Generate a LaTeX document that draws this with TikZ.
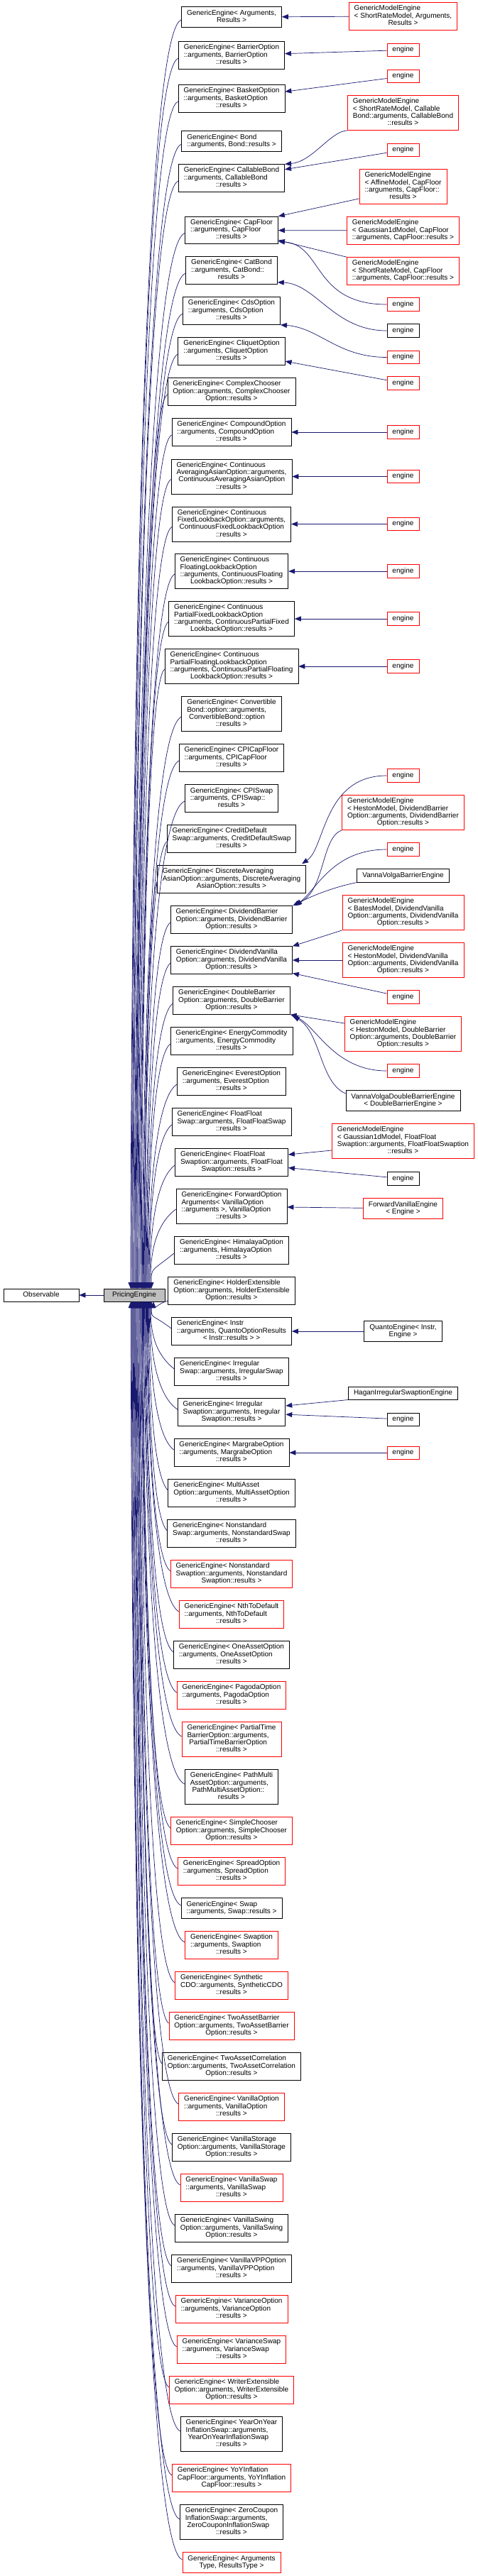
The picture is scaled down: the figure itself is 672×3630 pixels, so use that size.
\documentclass[tikz,border=0pt]{standalone}
\usepackage{fontspec}
\setmainfont{Liberation Sans}
\usetikzlibrary{arrows.meta,calc}
\definecolor{edgeblue}{HTML}{191970}
\definecolor{pegray}{HTML}{BFBFBF}
\newcommand{\lbl}[2]{\begin{tabular}{@{}l@{}}#1\\\multicolumn{1}{@{}c@{}}{#2}\end{tabular}}
\newcommand{\one}[1]{\begin{tabular}{@{}c@{}}#1\end{tabular}}
\begin{document}
\begin{tikzpicture}[x=1pt, y=-1pt,
  cls/.style={draw,line width=0.8pt,inner xsep=7.5pt,inner ysep=4pt,font=\fontsize{10}{10}\selectfont},
  rcls/.style={cls,draw=red},
  inh/.style={draw=edgeblue,line width=0.7pt,-{Triangle[length=9pt,width=7pt]}}]
\useasboundingbox (0,0) rectangle (672,3630);
\node[cls,minimum width=106pt] (obs) at (58,1825) {\one{Observable}};
\node[cls,fill=pegray,minimum width=86pt] (pe) at (189,1825) {\one{PricingEngine}};
\node[cls] (args) at (326,24) {\lbl{GenericEngine< Arguments,}{Results >}};
\node[cls] (barrier) at (326,78) {\lbl{GenericEngine< BarrierOption\\::arguments, BarrierOption}{::results >}};
\node[cls] (basket) at (326,139) {\lbl{GenericEngine< BasketOption\\::arguments, BasketOption}{::results >}};
\node[cls] (bond) at (326,199) {\lbl{GenericEngine< Bond}{::arguments, Bond::results >}};
\node[cls] (callable) at (326,251) {\lbl{GenericEngine< CallableBond\\::arguments, CallableBond}{::results >}};
\node[cls] (capfloor) at (326,324.5) {\lbl{GenericEngine< CapFloor\\::arguments, CapFloor}{::results >}};
\node[cls] (catbond) at (326,381) {\lbl{GenericEngine< CatBond\\::arguments, CatBond::}{results >}};
\node[cls] (cds) at (326,438) {\lbl{GenericEngine< CdsOption\\::arguments, CdsOption}{::results >}};
\node[cls] (cliquet) at (326,495) {\lbl{GenericEngine< CliquetOption\\::arguments, CliquetOption}{::results >}};
\node[cls] (complex) at (326,552) {\lbl{GenericEngine< ComplexChooser\\Option::arguments, ComplexChooser}{Option::results >}};
\node[cls] (compound) at (326,609) {\lbl{GenericEngine< CompoundOption\\::arguments, CompoundOption}{::results >}};
\node[cls] (contavg) at (326,671.5) {\lbl{GenericEngine< Continuous\\AveragingAsianOption::arguments,\\\ ContinuousAveragingAsianOption}{::results >}};
\node[cls] (fixedlb) at (326,738.5) {\lbl{GenericEngine< Continuous\\FixedLookbackOption::arguments,\\\ ContinuousFixedLookbackOption}{::results >}};
\node[cls] (floatlb) at (326,805) {\lbl{GenericEngine< Continuous\\FloatingLookbackOption\\::arguments, ContinuousFloating}{LookbackOption::results >}};
\node[cls] (pfixlb) at (326,872) {\lbl{GenericEngine< Continuous\\PartialFixedLookbackOption\\::arguments, ContinuousPartialFixed}{LookbackOption::results >}};
\node[cls] (pfloatlb) at (326,939) {\lbl{GenericEngine< Continuous\\PartialFloatingLookbackOption\\::arguments, ContinuousPartialFloating}{LookbackOption::results >}};
\node[cls] (convertible) at (326,1006) {\lbl{GenericEngine< Convertible\\Bond::option::arguments,\\\ ConvertibleBond::option}{::results >}};
\node[cls] (cpicap) at (326,1068) {\lbl{GenericEngine< CPICapFloor\\::arguments, CPICapFloor}{::results >}};
\node[cls] (cpiswap) at (326,1125) {\lbl{GenericEngine< CPISwap\\::arguments, CPISwap::}{results >}};
\node[cls] (cdswap) at (326,1182) {\lbl{GenericEngine< CreditDefault\\Swap::arguments, CreditDefaultSwap}{::results >}};
\node[cls] (discrete) at (326,1239) {\lbl{GenericEngine< DiscreteAveraging\\AsianOption::arguments, DiscreteAveraging}{AsianOption::results >}};
\node[cls] (divbarrier) at (326,1296) {\lbl{GenericEngine< DividendBarrier\\Option::arguments, DividendBarrier}{Option::results >}};
\node[cls] (divvanilla) at (326,1353) {\lbl{GenericEngine< DividendVanilla\\Option::arguments, DividendVanilla}{Option::results >}};
\node[cls] (dblbarrier) at (326,1410) {\lbl{GenericEngine< DoubleBarrier\\Option::arguments, DoubleBarrier}{Option::results >}};
\node[cls] (energy) at (326,1467) {\lbl{GenericEngine< EnergyCommodity\\::arguments, EnergyCommodity}{::results >}};
\node[cls] (everest) at (326,1524) {\lbl{GenericEngine< EverestOption\\::arguments, EverestOption}{::results >}};
\node[cls] (ffswap) at (326,1581) {\lbl{GenericEngine< FloatFloat\\Swap::arguments, FloatFloatSwap}{::results >}};
\node[cls] (ffswaption) at (326,1638) {\lbl{GenericEngine< FloatFloat\\Swaption::arguments, FloatFloat}{Swaption::results >}};
\node[cls] (forward) at (326,1700) {\lbl{GenericEngine< ForwardOption\\Arguments< VanillaOption\\::arguments >, VanillaOption}{::results >}};
\node[cls] (himalaya) at (326,1762) {\lbl{GenericEngine< HimalayaOption\\::arguments, HimalayaOption}{::results >}};
\node[cls] (holder) at (326,1819) {\lbl{GenericEngine< HolderExtensible\\Option::arguments, HolderExtensible}{Option::results >}};
\node[cls] (instr) at (326,1876) {\lbl{GenericEngine< Instr\\::arguments, QuantoOptionResults}{< Instr::results > >}};
\node[cls] (irrswap) at (326,1933) {\lbl{GenericEngine< Irregular\\Swap::arguments, IrregularSwap}{::results >}};
\node[cls] (irrswaption) at (326,1990) {\lbl{GenericEngine< Irregular\\Swaption::arguments, Irregular}{Swaption::results >}};
\node[cls] (margrabe) at (326,2047) {\lbl{GenericEngine< MargrabeOption\\::arguments, MargrabeOption}{::results >}};
\node[cls] (multiasset) at (326,2104) {\lbl{GenericEngine< MultiAsset\\Option::arguments, MultiAssetOption}{::results >}};
\node[cls] (nsswap) at (326,2161) {\lbl{GenericEngine< Nonstandard\\Swap::arguments, NonstandardSwap}{::results >}};
\node[rcls] (nsswaption) at (326,2218) {\lbl{GenericEngine< Nonstandard\\Swaption::arguments, Nonstandard}{Swaption::results >}};
\node[rcls] (nth) at (326,2275) {\lbl{GenericEngine< NthToDefault\\::arguments, NthToDefault}{::results >}};
\node[cls] (oneasset) at (326,2332) {\lbl{GenericEngine< OneAssetOption\\::arguments, OneAssetOption}{::results >}};
\node[rcls] (pagoda) at (326,2389) {\lbl{GenericEngine< PagodaOption\\::arguments, PagodaOption}{::results >}};
\node[rcls] (partialtime) at (326,2451) {\lbl{GenericEngine< PartialTime\\BarrierOption::arguments,\\\ PartialTimeBarrierOption}{::results >}};
\node[cls] (pathmulti) at (326,2518) {\lbl{GenericEngine< PathMulti\\AssetOption::arguments,\\\ PathMultiAssetOption::}{results >}};
\node[rcls] (simplechooser) at (326,2580) {\lbl{GenericEngine< SimpleChooser\\Option::arguments, SimpleChooser}{Option::results >}};
\node[rcls] (spread) at (326,2637) {\lbl{GenericEngine< SpreadOption\\::arguments, SpreadOption}{::results >}};
\node[cls] (swap) at (326,2689) {\lbl{GenericEngine< Swap}{::arguments, Swap::results >}};
\node[rcls] (swaption) at (326,2741) {\lbl{GenericEngine< Swaption\\::arguments, Swaption}{::results >}};
\node[rcls] (synthcdo) at (326,2798) {\lbl{GenericEngine< Synthetic\\CDO::arguments, SyntheticCDO}{::results >}};
\node[rcls] (twobarrier) at (326,2855) {\lbl{GenericEngine< TwoAssetBarrier\\Option::arguments, TwoAssetBarrier}{Option::results >}};
\node[cls] (twocorr) at (326,2912) {\lbl{GenericEngine< TwoAssetCorrelation\\Option::arguments, TwoAssetCorrelation}{Option::results >}};
\node[rcls] (vanillaopt) at (326,2969) {\lbl{GenericEngine< VanillaOption\\::arguments, VanillaOption}{::results >}};
\node[cls] (storage) at (326,3026) {\lbl{GenericEngine< VanillaStorage\\Option::arguments, VanillaStorage}{Option::results >}};
\node[rcls] (vanillaswap) at (326,3083) {\lbl{GenericEngine< VanillaSwap\\::arguments, VanillaSwap}{::results >}};
\node[cls] (swing) at (326,3140) {\lbl{GenericEngine< VanillaSwing\\Option::arguments, VanillaSwing}{Option::results >}};
\node[cls] (vpp) at (326,3197) {\lbl{GenericEngine< VanillaVPPOption\\::arguments, VanillaVPPOption}{::results >}};
\node[rcls] (varopt) at (326,3254) {\lbl{GenericEngine< VarianceOption\\::arguments, VarianceOption}{::results >}};
\node[rcls] (varswap) at (326,3311) {\lbl{GenericEngine< VarianceSwap\\::arguments, VarianceSwap}{::results >}};
\node[rcls] (writer) at (326,3368) {\lbl{GenericEngine< WriterExtensible\\Option::arguments, WriterExtensible}{Option::results >}};
\node[cls] (yoy) at (326,3430) {\lbl{GenericEngine< YearOnYear\\InflationSwap::arguments,\\\ YearOnYearInflationSwap}{::results >}};
\node[rcls] (yoycap) at (326,3492) {\lbl{GenericEngine< YoYInflation\\CapFloor::arguments, YoYInflation}{CapFloor::results >}};
\node[cls] (zero) at (326,3554) {\lbl{GenericEngine< ZeroCoupon\\InflationSwap::arguments,\\\ ZeroCouponInflationSwap}{::results >}};
\node[rcls] (argtype) at (326,3611) {\lbl{GenericEngine< Arguments}{Type, ResultsType >}};
\node[rcls] (gmArgs) at (567.5,23) {\lbl{GenericModelEngine\\< ShortRateModel, Arguments,}{Results >}};
\node[rcls] (eBarrier) at (567.5,70.5) {\one{engine}};
\node[rcls] (eBasket) at (567.5,107.5) {\one{engine}};
\node[rcls] (gmCallable) at (567.5,159) {\lbl{GenericModelEngine\\< ShortRateModel, Callable\\Bond::arguments, CallableBond}{::results >}};
\node[rcls] (eCallable) at (567.5,211.5) {\one{engine}};
\node[rcls] (gmAffine) at (567.5,263) {\lbl{GenericModelEngine\\< AffineModel, CapFloor\\::arguments, CapFloor::}{results >}};
\node[rcls] (gmGaussCap) at (567.5,325) {\lbl{GenericModelEngine\\< Gaussian1dModel, CapFloor}{::arguments, CapFloor::results >}};
\node[rcls] (gmShortCap) at (567.5,382) {\lbl{GenericModelEngine\\< ShortRateModel, CapFloor}{::arguments, CapFloor::results >}};
\node[rcls] (eCapFloor) at (567.5,429) {\one{engine}};
\node[cls] (eCatBond) at (567.5,466) {\one{engine}};
\node[rcls] (eCds) at (567.5,503.5) {\one{engine}};
\node[rcls] (eCliquet) at (567.5,540) {\one{engine}};
\node[rcls] (eCompound) at (567.5,609) {\one{engine}};
\node[rcls] (eContAvg) at (567.5,671.5) {\one{engine}};
\node[rcls] (eFixedLb) at (567.5,738.5) {\one{engine}};
\node[rcls] (eFloatLb) at (567.5,805) {\one{engine}};
\node[rcls] (ePFixLb) at (567.5,872) {\one{engine}};
\node[rcls] (ePFloatLb) at (567.5,939) {\one{engine}};
\node[rcls] (eDiscrete) at (567.5,1093) {\one{engine}};
\node[rcls] (gmHestonDB) at (567.5,1145) {\lbl{GenericModelEngine\\< HestonModel, DividendBarrier\\Option::arguments, DividendBarrier}{Option::results >}};
\node[rcls] (eDivBarrier) at (567.5,1197) {\one{engine}};
\node[cls] (vvBarrier) at (567.5,1234) {\one{VannaVolgaBarrierEngine}};
\node[rcls] (gmBatesDV) at (567.5,1286) {\lbl{GenericModelEngine\\< BatesModel, DividendVanilla\\Option::arguments, DividendVanilla}{Option::results >}};
\node[rcls] (gmHestonDV) at (567.5,1353) {\lbl{GenericModelEngine\\< HestonModel, DividendVanilla\\Option::arguments, DividendVanilla}{Option::results >}};
\node[rcls] (eDivVanilla) at (567.5,1405) {\one{engine}};
\node[rcls] (gmHestonDBl) at (567.5,1457) {\lbl{GenericModelEngine\\< HestonModel, DoubleBarrier\\Option::arguments, DoubleBarrier}{Option::results >}};
\node[rcls] (eDblBarrier) at (567.5,1509) {\one{engine}};
\node[cls] (vvDblBarrier) at (567.5,1551) {\lbl{VannaVolgaDoubleBarrierEngine}{< DoubleBarrierEngine >}};
\node[rcls] (gmGaussFF) at (567.5,1608) {\lbl{GenericModelEngine\\< Gaussian1dModel, FloatFloat\\Swaption::arguments, FloatFloatSwaption}{::results >}};
\node[cls] (eFFSwaption) at (567.5,1661) {\one{engine}};
\node[rcls] (fwdVanilla) at (567.5,1703) {\lbl{ForwardVanillaEngine}{< Engine >}};
\node[cls] (quanto) at (567.5,1876) {\lbl{QuantoEngine< Instr,}{Engine >}};
\node[cls] (hagan) at (567.5,1963) {\one{HaganIrregularSwaptionEngine}};
\node[cls] (eIrrSwaption) at (567.5,2000) {\one{engine}};
\node[rcls] (eMargrabe) at (567.5,2047) {\one{engine}};
\draw[inh] (pe) -- (obs);
\foreach \nm/\yy in {args/24, barrier/78, basket/139, bond/199, callable/251, capfloor/324.5, catbond/381, cds/438, cliquet/495, complex/552, compound/609, contavg/671.5, fixedlb/738.5, floatlb/805, pfixlb/872, pfloatlb/939, convertible/1006, cpicap/1068, cpiswap/1125, cdswap/1182, discrete/1239, divbarrier/1296, divvanilla/1353, dblbarrier/1410, energy/1467, everest/1524, ffswap/1581, ffswaption/1638, forward/1700, himalaya/1762, instr/1876, irrswap/1933, irrswaption/1990, margrabe/2047, multiasset/2104, nsswap/2161, nsswaption/2218, nth/2275, oneasset/2332, pagoda/2389, partialtime/2451, pathmulti/2518, simplechooser/2580, spread/2637, swap/2689, swaption/2741, synthcdo/2798, twobarrier/2855, twocorr/2912, vanillaopt/2969, storage/3026, vanillaswap/3083, swing/3140, vpp/3197, varopt/3254, varswap/3311, writer/3368, yoy/3430, yoycap/3492, zero/3554, argtype/3611}{
  \pgfmathsetmacro\dy{\yy-1825}
  \pgfmathsetmacro\sg{\dy<0 ? -1 : 1}
  \pgfmathsetmacro\xb{184+30*(1-min(abs(\dy),1800)/1800)}
  \pgfmathsetmacro\bd{min(30,abs(\dy)/2)}
  \pgfmathsetmacro\ya{\yy-\sg*\bd}
  \pgfmathsetmacro\yb{1825+\sg*(9+\bd)}
  \pgfmathsetmacro\ye{-4*\sg}
  \pgfmathsetmacro\xf{\xb-189}
  \pgfmathsetmacro\yf{9*\sg}
  \draw[inh] ($(\nm.west)+(0,\ye)$) .. controls (\xb,\ya) and (\xb,\yb) .. ($(pe.center)+(\xf,\yf)$);
}
\draw[inh] ($(holder.west)+(0,14)$) .. controls (224,1836) and (216,1846) .. ($(pe.center)+(27,9)$);
\draw[inh] (gmArgs) -- (args);
\draw[inh] (eBarrier) -- (barrier);
\draw[inh] (eBasket) -- (basket);
\draw[inh] (gmCallable.south west) .. controls (465,185) and (440,228) .. (callable.north east);
\draw[inh] (eCallable) -- (callable);
\draw[inh] ($(gmAffine.south west)+(0,-8)$) -- (capfloor.north east);
\draw[inh] (gmGaussCap) -- (capfloor);
\draw[inh] (gmShortCap.north west) -- ($(capfloor.east)+(0,14)$);
\draw[inh] (eCapFloor.west) .. controls (440,429) and (455,345) .. ($(capfloor.south east)+(0,-4)$);
\draw[inh] (eCatBond.west) .. controls (470,466) and (445,400) .. ($(catbond.south east)+(0,-3)$);
\draw[inh] (eCds.west) .. controls (475,503.5) and (450,462) .. (cds.south east);
\draw[inh] (eCliquet) -- (cliquet);
\draw[inh] (eCompound) -- (compound);
\draw[inh] (eContAvg) -- (contavg);
\draw[inh] (eFixedLb) -- (fixedlb);
\draw[inh] (eFloatLb) -- (floatlb);
\draw[inh] (ePFixLb) -- (pfixlb);
\draw[inh] (ePFloatLb) -- (pfloatlb);
\draw[inh] (eDiscrete.west) .. controls (455,1093) and (458,1195) .. ($(discrete.north east)+(-6,-2)$);
\draw[inh] (gmHestonDB.south west) .. controls (452,1180) and (458,1255) .. ($(divbarrier.north east)+(2,-1)$);
\draw[inh] (eDivBarrier.west) .. controls (470,1197) and (448,1250) .. ($(divbarrier.north east)+(4,0)$);
\draw[inh] (vvBarrier.south west) .. controls (470,1250) and (440,1262) .. (divbarrier.north east);
\draw[inh] (gmBatesDV.south west) -- (divvanilla.north east);
\draw[inh] (gmHestonDV) -- (divvanilla);
\draw[inh] (eDivVanilla) -- (divvanilla);
\draw[inh] ($(gmHestonDBl.west)+(0,-15)$) -- (dblbarrier.south east);
\draw[inh] (eDblBarrier.west) .. controls (470,1509) and (445,1445) .. ($(dblbarrier.south east)+(2,1)$);
\draw[inh] ($(vvDblBarrier.west)+(0,-10)$) .. controls (450,1525) and (452,1455) .. ($(dblbarrier.south east)+(4,2)$);
\draw[inh] ($(gmGaussFF.west)+(0,13)$) -- ($(ffswaption.east)+(0,-11)$);
\draw[inh] (eFFSwaption) -- (ffswaption);
\draw[inh] (fwdVanilla) -- (forward);
\draw[inh] (quanto) -- (instr);
\draw[inh] (hagan.south west) -- ($(irrswaption.east)+(0,-9)$);
\draw[inh] (eIrrSwaption) -- (irrswaption);
\draw[inh] (eMargrabe) -- (margrabe);
\end{tikzpicture}
\end{document}
